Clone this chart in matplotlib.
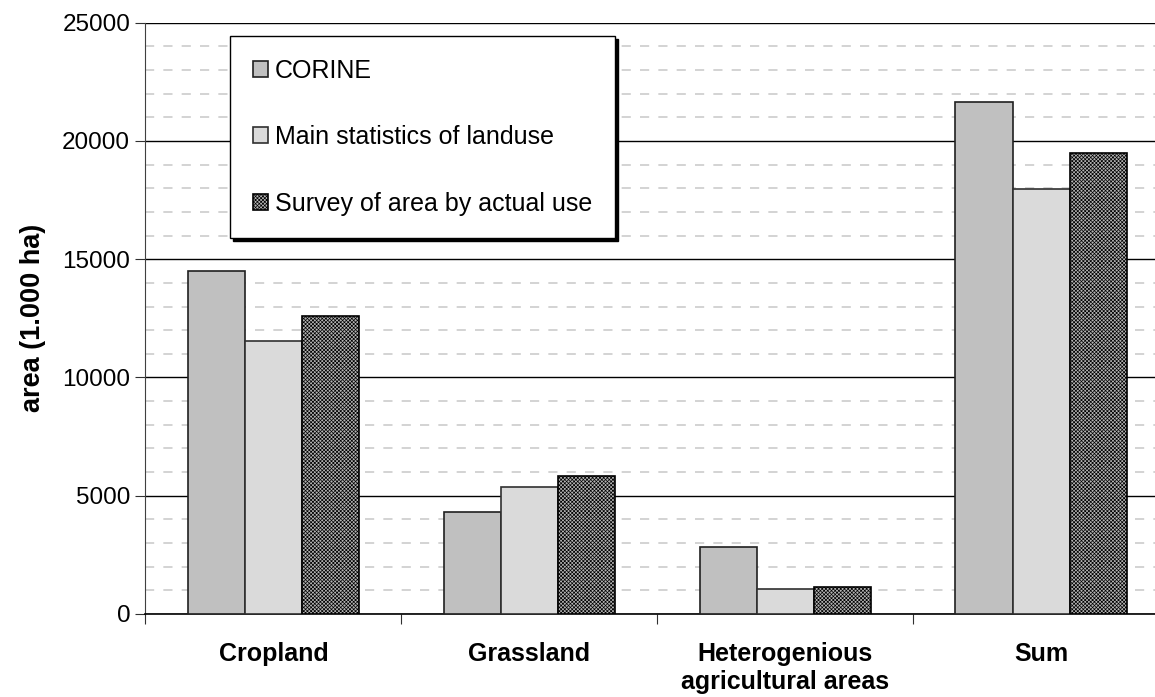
import numpy as np
import matplotlib
matplotlib.use('Agg')
import matplotlib.pyplot as plt
from matplotlib.ticker import MultipleLocator, FixedLocator

plt.rcParams['font.family'] = ['Liberation Sans', 'DejaVu Sans']
plt.rcParams['hatch.linewidth'] = 0.5

# data (1.000 ha)
categories = ['Cropland', 'Grassland', 'Heterogenious\nagricultural areas', 'Sum']
corine = [14500, 4300, 2830, 21650]
main_stats = [11550, 5350, 1060, 17950]
survey = [12600, 5850, 1140, 19500]
series_names = ['CORINE', 'Main statistics of landuse', 'Survey of area by actual use']

W, H = 1155, 697
fig = plt.figure(figsize=(W / 100, H / 100), dpi=100)
# axes box in pixels: left 145.5, right 1169 (beyond the picture), top 22.7, bottom 614
ax = fig.add_axes([145.5 / W, (H - 614) / H, (1169 - 145.5) / W, (614 - 22.7) / H])

x = np.arange(len(categories)) + 0.5
bw = 0.223
ax.bar(x - bw, corine, bw, color='#c0c0c0', edgecolor='#202020', linewidth=1.2,
       label=series_names[0], zorder=3)
ax.bar(x, main_stats, bw, color='#dadada', edgecolor='#303030', linewidth=1.2,
       label=series_names[1], zorder=3)
ax.bar(x + bw, survey, bw, color='#b4b4b4', edgecolor='black', linewidth=1.2,
       hatch='xxxxxxxxx', label=series_names[2], zorder=3)

ax.set_xlim(0, 4)
ax.set_ylim(0, 25000)
ax.yaxis.set_major_locator(MultipleLocator(5000))
ax.yaxis.set_minor_locator(MultipleLocator(1000))
ax.grid(which='major', axis='y', color='black', linewidth=1.0, zorder=1)
ax.grid(which='minor', axis='y', color='#c8c8c8', linewidth=1.1,
        linestyle=(0, (6, 6)), zorder=1)

# category boundary ticks, labels in the middle
ax.xaxis.set_major_locator(FixedLocator([0, 1, 2, 3, 4]))
ax.xaxis.set_minor_locator(FixedLocator(x))
ax.set_xticklabels([])
ax.set_xticklabels(categories, minor=True, fontsize=18, fontweight='bold', linespacing=1.2)
ax.tick_params(axis='x', which='major', length=7, direction='out', color='#303030')
ax.tick_params(axis='x', which='minor', length=0, pad=20)
ax.tick_params(axis='y', which='major', length=7, labelsize=17.5, color='#303030', pad=4)
ax.tick_params(axis='y', which='minor', length=0)

for s in ['top', 'right']:
    ax.spines[s].set_visible(False)
ax.spines['left'].set_color('#404040')
ax.spines['bottom'].set_color('black')
ax.spines['bottom'].set_linewidth(1.2)

ax.set_ylabel('area (1.000 ha)', fontsize=19.5, fontweight='bold', labelpad=12)

leg = ax.legend(loc='upper left', bbox_to_anchor=(230 / W, 1 - 36 / H),
                bbox_transform=fig.transFigure, borderaxespad=0, fontsize=18,
                frameon=True, fancybox=False, edgecolor='black', framealpha=1,
                handlelength=0.6, handleheight=0.6, handletextpad=0.3,
                labelspacing=1.7, borderpad=0.9, shadow={'color': 'black', 'alpha': 1})
leg.get_frame().set_linewidth(1.0)
leg.set_zorder(5)

fig.savefig('out.png', dpi=100)
